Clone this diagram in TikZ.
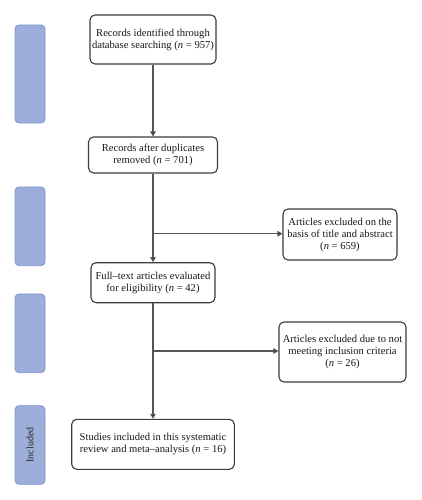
\documentclass[tikz,border=0pt]{standalone}
\usepackage{fontspec}
\setmainfont{Liberation Serif}
\usetikzlibrary{arrows.meta}
\definecolor{barfill}{HTML}{9DAEDB}
\definecolor{barline}{HTML}{7F95D2}
\definecolor{lncol}{HTML}{555555}
\definecolor{boxline}{HTML}{3C3C3C}
\begin{document}
\begin{tikzpicture}[x=1pt,y=-1pt,
  flowbox/.style={draw=boxline,line width=1.1pt,rounded corners=5pt,fill=white,align=center,
    font=\fontsize{10.6}{12}\selectfont,inner sep=0pt,text=black!90},
  sidebar/.style={draw=barline,line width=0.8pt,fill=barfill,rounded corners=4pt,minimum width=30pt,inner sep=0pt},
  conn/.style={draw=lncol,line width=1.2pt},
  arr/.style={conn,-{Triangle[length=5pt,width=5.5pt,fill=black]}}]
\useasboundingbox (0,0) rectangle (421,500);
% side bars
\node[sidebar,minimum height=98pt] (bar1) at (30,74) {};
\node[sidebar,minimum height=78.7pt] (bar2) at (30,226.3) {};
\node[sidebar,minimum height=78.7pt] (bar3) at (30,333.3) {};
\node[sidebar,minimum height=78.6pt] (bar4) at (30,445) {};
\node[rotate=90,font=\fontsize{10}{11}\selectfont,text=black!85] (inc) at (bar4.center) {Included};
% boxes
\node[flowbox,minimum width=126pt,minimum height=49pt] (b1) at (153,39.5)
  {Records identified through\\database searching (\textit{n} = 957)};
\node[flowbox,minimum width=129pt,minimum height=36pt] (b2) at (153,155)
  {Records after duplicates\\removed (\textit{n} = 701)};
\node[flowbox,minimum width=114pt,minimum height=51pt] (e1) at (340,234.5)
  {Articles excluded on the\\basis of title and abstract\\(\textit{n} = 659)};
\node[flowbox,minimum width=124pt,minimum height=40pt] (b3) at (153,282.7)
  {Full–text articles evaluated\\for eligibility (\textit{n} = 42)};
\node[flowbox,minimum width=127pt,minimum height=60pt] (e2) at (342.5,352)
  {Articles excluded due to not\\meeting inclusion criteria\\(\textit{n} = 26)};
\node[flowbox,minimum width=162.6pt,minimum height=50pt] (b4) at (153,444.3)
  {Studies included in this systematic\\review and meta–analysis (\textit{n} = 16)};
% connectors
\coordinate (j1) at (153,233.7);
\coordinate (j2) at (153,351);
\draw[arr] (b1.south) -- (b2.north);
\draw[arr] (b2.south) -- (b3.north);
\draw[arr] (b3.south) -- (b4.north);
\draw[arr] (j1) -- (e1.west |- j1);
\draw[arr] (j2) -- (e2.west |- j2);
\end{tikzpicture}
\end{document}
